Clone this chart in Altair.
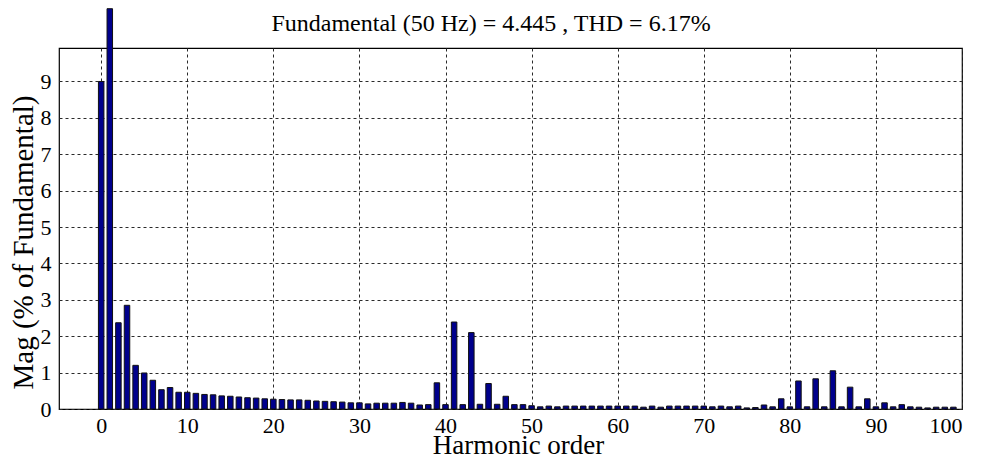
import altair as alt
import pandas as pd

harmonic = list(range(0, 100))
magnitude = [
    9.00, 11.00, 2.37, 2.85, 1.20, 0.99, 0.79, 0.53, 0.59, 0.46,
    0.46, 0.43, 0.40, 0.39, 0.36, 0.35, 0.33, 0.31, 0.30, 0.28,
    0.27, 0.26, 0.25, 0.25, 0.24, 0.22, 0.21, 0.20, 0.19, 0.17,
    0.17, 0.14, 0.16, 0.16, 0.16, 0.18, 0.16, 0.11, 0.12, 0.72,
    0.12, 2.39, 0.12, 2.10, 0.13, 0.70, 0.13, 0.35, 0.12, 0.12,
    0.09, 0.06, 0.08, 0.06, 0.08, 0.08, 0.08, 0.08, 0.08, 0.08,
    0.08, 0.08, 0.08, 0.05, 0.08, 0.05, 0.08, 0.08, 0.08, 0.08,
    0.08, 0.06, 0.08, 0.06, 0.08, 0.03, 0.04, 0.11, 0.06, 0.28,
    0.06, 0.77, 0.06, 0.83, 0.06, 1.05, 0.06, 0.60, 0.06, 0.28,
    0.06, 0.17, 0.06, 0.12, 0.06, 0.05, 0.03, 0.05, 0.05, 0.05,
]
x_ticks = [0, 10, 20, 30, 40, 50, 60, 70, 80, 90, 100]
y_ticks = [0, 1, 2, 3, 4, 5, 6, 7, 8, 9]
title_text = "Fundamental (50 Hz) = 4.445 , THD = 6.17%"

df = pd.DataFrame({"h": harmonic, "mag": magnitude})

FONT = "Liberation Serif"

bars = (
    alt.Chart(df)
    .transform_calculate(x1="datum.h - 0.32", x2="datum.h + 0.32")
    .mark_bar(fill="#00008C", stroke="#111111", strokeWidth=1, clip=False)
    .encode(
        x=alt.X(
            "x1:Q",
            scale=alt.Scale(domain=[-4.9, 100], nice=False, zero=False),
            axis=alt.Axis(
                values=x_ticks,
                title="Harmonic order",
                titleFont=FONT,
                titleFontSize=27,
                titleFontWeight="normal",
                titleColor="#000",
                titleX=459,
                titleY=36,
                titleBaseline="middle",
                titleAlign="center",
                labelFont=FONT,
                labelFontSize=22,
                labelColor="#000",
                labelPadding=6,
                ticks=False,
                domain=False,
                grid=True,
                gridColor="#2a2a2a",
                gridDash=[3, 3],
                gridWidth=1,
            ),
        ),
        x2="x2:Q",
        y=alt.Y(
            "mag:Q",
            scale=alt.Scale(domain=[0, 9.92], nice=False, clamp=False),
            axis=alt.Axis(
                values=y_ticks,
                title="Mag (% of Fundamental)",
                titleFont=FONT,
                titleFontSize=29,
                titleFontWeight="normal",
                titleColor="#000",
                titleX=-36,
                titleY=194,
                titleAngle=270,
                titleBaseline="middle",
                titleAlign="center",
                labelFont=FONT,
                labelFontSize=22,
                labelColor="#000",
                labelPadding=8,
                ticks=False,
                domain=False,
                grid=True,
                gridColor="#2a2a2a",
                gridDash=[3, 3],
                gridWidth=1,
            ),
        ),
        y2=alt.datum(0),
    )
)

title_layer = (
    alt.Chart(pd.DataFrame({"t": [title_text]}))
    .mark_text(font=FONT, fontSize=24, color="#000", align="center", baseline="alphabetic")
    .encode(text="t:N", x=alt.value(432), y=alt.value(-17))
)

chart = (
    alt.layer(bars, title_layer)
    .properties(
        width=903,
        height=361,
        autosize=alt.AutoSizeParams(type="none"),
        padding={"left": 59, "top": 48, "right": 22, "bottom": 49},
        background="white",
    )
    .configure_view(stroke="#000000", strokeWidth=1.2)
)

chart.save("out.html", embed_options={"renderer": "svg", "actions": False})
